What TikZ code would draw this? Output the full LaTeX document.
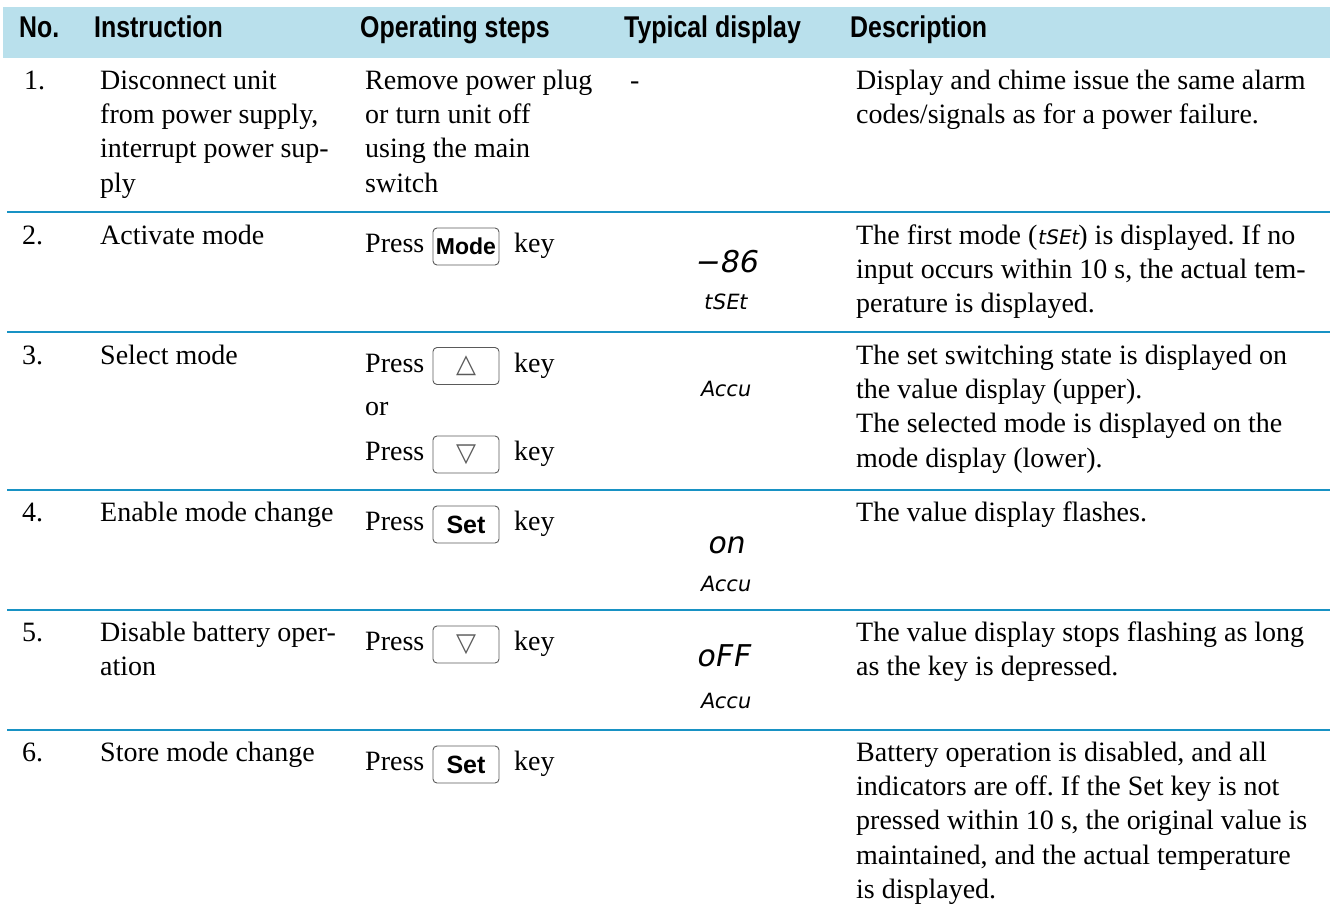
\documentclass[tikz,border=0pt]{standalone}
\usepackage{fontspec}
\setmainfont{Liberation Serif}
\newfontfamily\headfont[FakeStretch=0.83]{Liberation Sans}
\newfontfamily\keyfont{Liberation Sans}
\newfontfamily\segfont[FakeSlant=0.18]{DejaVu Sans}
\newfontfamily\symfont{DejaVu Sans}
\frenchspacing

\definecolor{headbg}{RGB}{185,224,236}
\definecolor{ruleblue}{RGB}{24,146,196}
\definecolor{keygray}{RGB}{90,90,90}

\newcommand{\bodysize}{\fontsize{28}{34.4}\selectfont}
\newcommand{\lcdtext}[1]{{\segfont\fontsize{20}{20}\selectfont #1}}
% several lines, hung from the first baseline
\newcommand{\lines}[1]{\begin{tabular}[t]{@{}l@{}}#1\end{tabular}}

\begin{document}
\begin{tikzpicture}[x=1pt,y=-1pt,
    cell/.style={anchor=base west,inner sep=0pt,font=\bodysize},
    head/.style={anchor=base west,inner sep=0pt,font=\headfont\bfseries\fontsize{30}{30}\selectfont},
    keybox/.style={draw=keygray,rounded corners=4pt,line width=0.9pt,minimum width=66pt,
      minimum height=37pt,inner sep=0pt,font=\keyfont\bfseries\fontsize{23}{23}\selectfont},
    setkey/.style={keybox,font=\keyfont\bfseries\fontsize{25}{25}\selectfont},
    arrowkey/.style={keybox,font=\symfont\fontsize{26}{26}\selectfont,text=keygray},
    lcd/.style={inner sep=0pt,font=\segfont\fontsize{30}{30}\selectfont},
    lcdmode/.style={inner sep=0pt,font=\segfont\fontsize{21}{21}\selectfont},
    rule/.style={draw=ruleblue,line width=2pt}]
  \useasboundingbox (0,0) rectangle (1330,913);

  % header band
  \fill[headbg] (3,7) rectangle (1330,58);
  \node[head] (hno) at (19,37) {No.};
  \node[head] (hins) at (94,37) {Instruction};
  \node[head] (hop) at (360,37) {Operating steps};
  \node[head] (hdisp) at (624,37) {Typical display};
  \node[head] (hdesc) at (850,37) {Description};

  % 1
  \node[cell] (n1) at (24,89) {1.};
  \node[cell] (i1) at (100,89) {\lines{Disconnect unit\\from power supply,\\interrupt power sup-\\ply}};
  \node[cell] (o1) at (365,89) {\lines{Remove power plug\\or turn unit off\\using the main\\switch}};
  \node[cell] (v1) at (630,89) {-};
  \node[cell] (d1) at (856,89) {\lines{Display and chime issue the same alarm\\codes/signals as for a power failure.}};
  \draw[rule] (7,212) -- (1330,212);

  % 2
  \node[cell] (n2) at (22,244) {2.};
  \node[cell] (i2) at (100,244) {Activate mode};
  \node[cell] (p2) at (365,252.5) {Press};
  \node[keybox] (k2) at (466,246.5) {Mode};
  \node[cell] (y2) at (514,252.5) {key};
  \node[lcd] (v2a) at (726,262) {−86};
  \node[lcdmode] (v2b) at (725,302) {tSEt};
  \node[cell] (d2) at (856,244) {\lines{The first mode (\lcdtext{tSEt}) is displayed. If no\\input occurs within 10 s, the actual tem-\\perature is displayed.}};
  \draw[rule] (7,332) -- (1330,332);

  % 3
  \node[cell] (n3) at (22,364) {3.};
  \node[cell] (i3) at (100,364) {Select mode};
  \node[cell] (p3a) at (365,372) {Press};
  \node[arrowkey] (k3a) at (466,366) {△};
  \node[cell] (y3a) at (514,372) {key};
  \node[cell] (or3) at (365,415.5) {or};
  \node[cell] (p3b) at (365,460.5) {Press};
  \node[arrowkey] (k3b) at (466,454.5) {▽};
  \node[cell] (y3b) at (514,460.5) {key};
  \node[lcdmode] (v3) at (725,389) {Accu};
  \node[cell] (d3) at (856,364) {\lines{The set switching state is displayed on\\the value display (upper).\\The selected mode is displayed on the\\mode display (lower).}};
  \draw[rule] (7,490) -- (1330,490);

  % 4
  \node[cell] (n4) at (22,521) {4.};
  \node[cell] (i4) at (100,521) {Enable mode change};
  \node[cell] (p4) at (365,530.5) {Press};
  \node[setkey] (k4) at (466,524.5) {Set};
  \node[cell] (y4) at (514,530.5) {key};
  \node[lcd] (v4a) at (726,545) {on};
  \node[lcdmode] (v4b) at (725,584) {Accu};
  \node[cell] (d4) at (856,521) {The value display flashes.};
  \draw[rule] (7,610) -- (1330,610);

  % 5
  \node[cell] (n5) at (22,641) {5.};
  \node[cell] (i5) at (100,641) {\lines{Disable battery oper-\\ation}};
  \node[cell] (p5) at (365,650.5) {Press};
  \node[arrowkey] (k5) at (466,644.5) {▽};
  \node[cell] (y5) at (514,650.5) {key};
  \node[lcd] (v5a) at (723,656) {oFF};
  \node[lcdmode] (v5b) at (725,701) {Accu};
  \node[cell] (d5) at (856,641) {\lines{The value display stops flashing as long\\as the key is depressed.}};
  \draw[rule] (7,730) -- (1330,730);

  % 6
  \node[cell] (n6) at (22,761) {6.};
  \node[cell] (i6) at (100,761) {Store mode change};
  \node[cell] (p6) at (365,770.5) {Press};
  \node[setkey] (k6) at (466,764.5) {Set};
  \node[cell] (y6) at (514,770.5) {key};
  \node[cell] (d6) at (856,761) {\lines{Battery operation is disabled, and all\\indicators are off. If the Set key is not\\pressed within 10 s, the original value is\\maintained, and the actual temperature\\is displayed.}};
\end{tikzpicture}
\end{document}
